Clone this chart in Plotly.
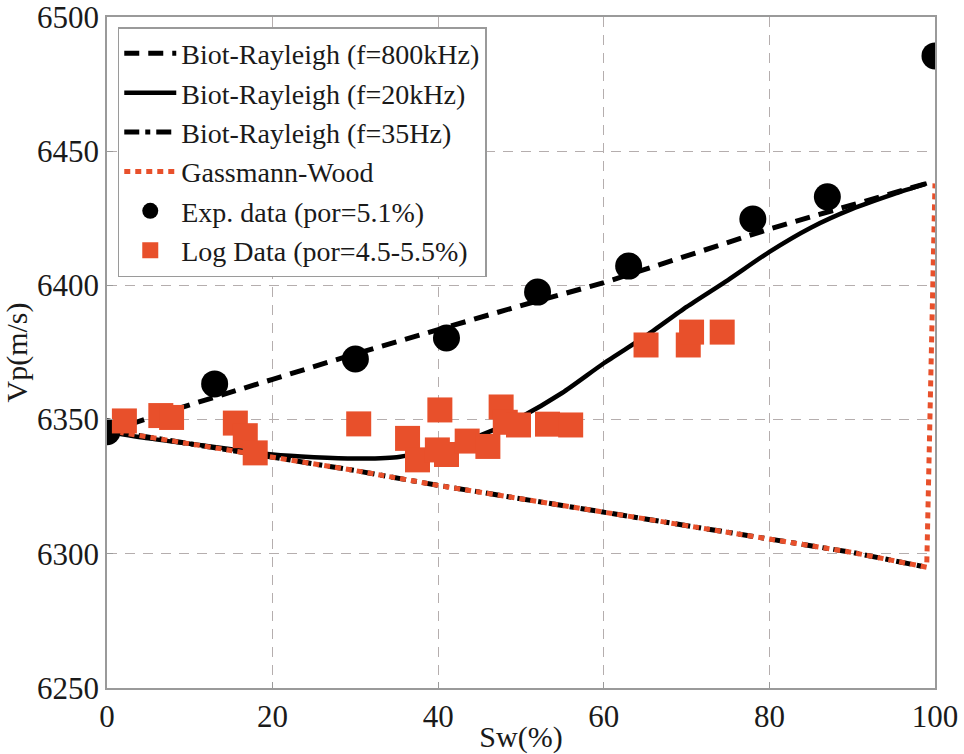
import plotly.graph_objects as go

# Water saturation (%) sampling of the model curves
sw_model = [0, 10, 20, 30, 40, 50, 60, 70, 80, 90, 99]
vp_800khz = [6345.5, 6355.5, 6365, 6374.5, 6383.5, 6392.5, 6401, 6411, 6421, 6430, 6438]

sw_20khz = [0, 5, 10, 15, 20, 25, 30, 35, 40, 45, 50, 55, 60, 65, 70, 75, 80, 85, 90, 95, 99]
vp_20khz = [6345.5, 6343, 6341, 6339, 6337, 6336, 6335.5, 6336, 6339, 6344, 6351, 6360,
            6371, 6381, 6392, 6402, 6412.5, 6421.5, 6428.5, 6434, 6438]

vp_35hz = [6346, 6341, 6336, 6331, 6325.5, 6320.5, 6315.5, 6310.5, 6305.5, 6300.5, 6295]

sw_gw = [0, 10, 20, 30, 40, 50, 60, 70, 80, 90, 99, 100]
vp_gw = [6346, 6341, 6336, 6331, 6325.5, 6320.5, 6315.5, 6310.5, 6305.5, 6300.5, 6295, 6438]

# Laboratory measurements
sw_exp = [0, 13, 30, 41, 52, 63, 78, 87, 100]
vp_exp = [6345.5, 6363.3, 6372.6, 6380.4, 6397.5, 6407.2, 6424.7, 6433, 6485.5]

# Well-log samples
sw_log = [2.1, 6.5, 7.8, 15.5, 16.7, 17.9, 30.4, 36.3, 37.5, 39.9, 41.0, 40.2, 43.5, 46.0,
          47.6, 48.1, 49.7, 53.2, 56.0, 65.1, 70.2, 70.6, 74.3]
vp_log = [6349.5, 6351.5, 6350.8, 6348.7, 6344, 6337.6, 6348.4, 6343, 6335, 6338.7, 6337,
          6353.6, 6342, 6340, 6354.7, 6349, 6348, 6348.3, 6348, 6377.8, 6377.8, 6382.6, 6382.6]

RED = "#E8502B"
SERIF = "Liberation Serif"

fig = go.Figure()
fig.add_trace(go.Scatter(x=sw_model, y=vp_800khz, mode="lines", name="Biot-Rayleigh (f=800kHz)",
                         line=dict(color="black", width=5, dash="15px,9px")))
fig.add_trace(go.Scatter(x=sw_20khz, y=vp_20khz, mode="lines", name="Biot-Rayleigh (f=20kHz)",
                         line=dict(color="black", width=4.5, shape="spline", smoothing=0.6)))
fig.add_trace(go.Scatter(x=sw_model, y=vp_35hz, mode="lines", name="Biot-Rayleigh (f=35Hz)",
                         line=dict(color="black", width=5, dash="15px,6px,5px,6px")))
fig.add_trace(go.Scatter(x=sw_gw, y=vp_gw, mode="lines", name="Gassmann-Wood",
                         line=dict(color=RED, width=5, dash="6px,5px")))
fig.add_trace(go.Scatter(x=sw_exp, y=vp_exp, mode="markers", name="Exp. data (por=5.1%)",
                         marker=dict(color="black", size=27, symbol="circle")))
fig.add_trace(go.Scatter(x=sw_log, y=vp_log, mode="markers", name="Log Data (por=4.5-5.5%)",
                         marker=dict(color=RED, size=25, symbol="square")))

axis_common = dict(
    showline=True, linecolor="#9a9a9a", linewidth=1.5, mirror=True,
    showgrid=True, gridcolor="#b5aeae", gridwidth=1, griddash="10px,8px",
    ticks="inside", ticklen=6, tickcolor="#9a9a9a",
    zeroline=False, automargin=False, ticklabeloverflow="allow",
    tickfont=dict(family=SERIF, size=31, color="#1a1a1a"),
    title_font=dict(family=SERIF, size=30, color="#1a1a1a"),
)

fig.update_xaxes(range=[0, 100], tickvals=[0, 20, 40, 60, 80, 100],
                 title_text="Sw(%)", title_standoff=2, **axis_common)
fig.update_yaxes(range=[6250, 6500], tickvals=[6250, 6300, 6350, 6400, 6450, 6500],
                 title_text="Vp(m/s)", title_standoff=4, **axis_common)

fig.update_layout(
    width=964, height=754,
    margin=dict(l=107, r=29, t=17, b=66),
    paper_bgcolor="white", plot_bgcolor="white",
    showlegend=True,
    legend=dict(x=0.013, y=0.985, xanchor="left", yanchor="top",
                bgcolor="white", bordercolor="#9a9a9a", borderwidth=1.5,
                font=dict(family=SERIF, size=28, color="#1a1a1a"),
                tracegroupgap=0, itemwidth=52),
)

fig.write_html("out.html")
